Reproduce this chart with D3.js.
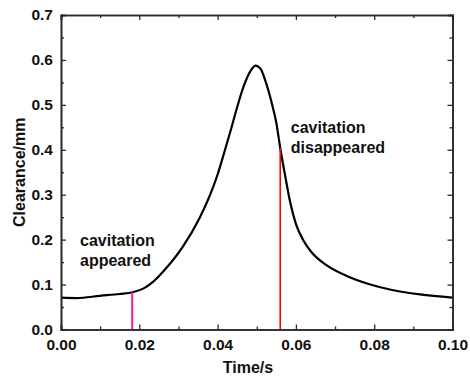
<!DOCTYPE html>
<html><head><meta charset="utf-8">
<script src="https://cdn.jsdelivr.net/npm/d3@7"></script>
<style>
html,body{margin:0;padding:0;background:#fff;}
svg text{font-family:"Liberation Sans",Arial,sans-serif;font-weight:bold;fill:#111;}
</style></head>
<body><svg id="c" width="470" height="379"></svg>
<script>
const timeS = [0, 0.004, 0.010, 0.015, 0.0183, 0.021, 0.0235, 0.027, 0.031, 0.0355, 0.0381, 0.0400, 0.0419, 0.0435, 0.0449, 0.0466, 0.0485, 0.0497, 0.0510, 0.0521, 0.0538, 0.0550, 0.0560, 0.0572, 0.0585, 0.0600, 0.0620, 0.0640, 0.0680, 0.0730, 0.0790, 0.0840, 0.0917, 0.1000];
const clearanceMm = [0.0708, 0.0700, 0.0750, 0.0790, 0.0830, 0.0910, 0.1060, 0.1380, 0.1830, 0.2500, 0.3000, 0.3450, 0.4000, 0.4480, 0.4920, 0.5400, 0.5770, 0.5875, 0.5800, 0.5560, 0.5050, 0.4600, 0.4040, 0.3450, 0.2850, 0.2350, 0.1970, 0.1720, 0.1420, 0.1190, 0.1000, 0.0890, 0.0780, 0.0710];
const xTicks = [0, 0.02, 0.04, 0.06, 0.08, 0.10];
const xMinor = [0.01, 0.03, 0.05, 0.07, 0.09];
const yTicks = [0, 0.1, 0.2, 0.3, 0.4, 0.5, 0.6, 0.7];
const yMinor = [0.05, 0.15, 0.25, 0.35, 0.45, 0.55, 0.65];
const markerTimes = [0.0182, 0.056];
const markerValues = [0.0828, 0.404];
const annotationLines = [["cavitation", "appeared"], ["cavitation", "disappeared"]];
const annotationAnchor = [[0.00485, 0.186], [0.0587, 0.4375]];
const xTitle = "Time/s", yTitle = "Clearance/mm";

const svg = d3.select("#c");
const L = 61, R = 452.5, T = 15, B = 329.5;
const x = d3.scaleLinear().domain([0, 0.1]).range([L, R]);
const y = d3.scaleLinear().domain([0, 0.7]).range([B, T]);
const axisColor = "#2a2a2a";

// curve
const data = timeS.map((t, i) => [t, clearanceMm[i]]);
svg.append("path").datum(data)
  .attr("fill", "none").attr("stroke", "#000").attr("stroke-width", 2.2)
  .attr("stroke-linejoin", "round")
  .attr("d", d3.line().x(d => x(d[0])).y(d => y(d[1])).curve(d3.curveMonotoneX));

// marker lines
const mColors = ["#ff1493", "#ff0000"];
const mWidths = [2, 1.6];
markerTimes.forEach((t, i) => {
  svg.append("line").attr("x1", x(t)).attr("x2", x(t)).attr("y1", y(markerValues[i])).attr("y2", y(0))
    .attr("stroke", mColors[i]).attr("stroke-width", mWidths[i]);
});

// axes (ticks inward)
function fmtX(d){ return d3.format(".2f")(d); }
function fmtY(d){ return d3.format(".1f")(d); }
const gB = svg.append("g").attr("transform", `translate(0,${B})`)
  .call(d3.axisBottom(x).tickValues(xTicks).tickSize(-5).tickPadding(9).tickFormat(fmtX));
const gBm = svg.append("g").attr("transform", `translate(0,${B})`)
  .call(d3.axisBottom(x).tickValues(xMinor).tickSize(-3).tickFormat(""));
const gT = svg.append("g").attr("transform", `translate(0,${T})`)
  .call(d3.axisTop(x).tickValues(xTicks).tickSize(-5).tickFormat(""));
const gTm = svg.append("g").attr("transform", `translate(0,${T})`)
  .call(d3.axisTop(x).tickValues(xMinor).tickSize(-3).tickFormat(""));
const gL = svg.append("g").attr("transform", `translate(${L},0)`)
  .call(d3.axisLeft(y).tickValues(yTicks).tickSize(-5).tickPadding(8).tickFormat(fmtY));
const gLm = svg.append("g").attr("transform", `translate(${L},0)`)
  .call(d3.axisLeft(y).tickValues(yMinor).tickSize(-3).tickFormat(""));
const gR = svg.append("g").attr("transform", `translate(${R},0)`)
  .call(d3.axisRight(y).tickValues(yTicks).tickSize(-5).tickFormat(""));
const gRm = svg.append("g").attr("transform", `translate(${R},0)`)
  .call(d3.axisRight(y).tickValues(yMinor).tickSize(-3).tickFormat(""));
[gB, gBm, gT, gTm, gL, gLm, gR, gRm].forEach(g => {
  g.select(".domain").attr("stroke", axisColor).attr("stroke-width", 1.6);
  g.selectAll(".tick line").attr("stroke", axisColor).attr("stroke-width", 1.3);
  g.selectAll(".tick text").attr("font-size", "15.5px").attr("font-family", "Liberation Sans, Arial, sans-serif").attr("font-weight", "bold").attr("fill", "#111");
});

// axis titles
svg.append("text").attr("x", 248).attr("y", 373).attr("text-anchor", "middle").attr("font-size", "16px").text(xTitle);
svg.append("text").attr("transform", `translate(25,${(T + B) / 2}) rotate(-90)`).attr("text-anchor", "middle").attr("font-size", "16px").text(yTitle);

// annotations
annotationLines.forEach((lines, i) => {
  const t = svg.append("text").attr("font-size", "16px");
  lines.forEach((s, j) => {
    t.append("tspan").attr("x", x(annotationAnchor[i][0])).attr("y", y(annotationAnchor[i][1]) + j * 20.5).text(s);
  });
});
</script></body></html>
